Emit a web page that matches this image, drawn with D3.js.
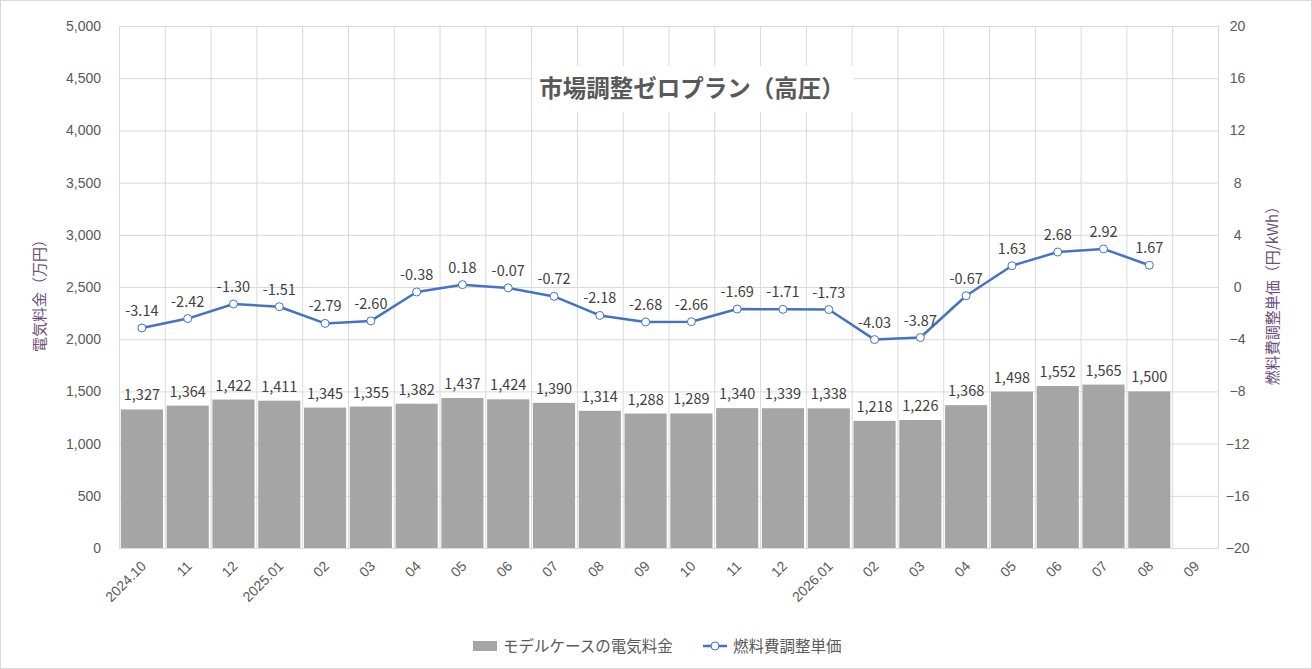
<!DOCTYPE html>
<html>
<head>
<meta charset="utf-8">
<script src="https://cdn.jsdelivr.net/npm/d3@7"></script>
<style>
  body { margin: 0; background: #fff; }
  svg { display: block; font-family: "Noto Sans CJK JP", "Noto Sans", sans-serif; }
  .tick text { fill: #595959; font-size: 14px; }
  .label { fill: #404040; font-size: 14.5px; }
</style>
</head>
<body>
<svg></svg>
<script>
// categories (month labels)
const months = ["2024.10", "11", "12", "2025.01", "02", "03", "04", "05", "06", "07", "08", "09",
  "10", "11", "12", "2026.01", "02", "03", "04", "05", "06", "07", "08", "09"];
// モデルケースの電気料金 (万円)
const bills = [1327, 1364, 1422, 1411, 1345, 1355, 1382, 1437, 1424, 1390, 1314, 1288,
  1289, 1340, 1339, 1338, 1218, 1226, 1368, 1498, 1552, 1565, 1500];
// 燃料費調整単価 (円/kWh)
const fuelAdj = [-3.14, -2.42, -1.30, -1.51, -2.79, -2.60, -0.38, 0.18, -0.07, -0.72, -2.18, -2.68,
  -2.66, -1.69, -1.71, -1.73, -4.03, -3.87, -0.67, 1.63, 2.68, 2.92, 1.67];
const leftTicks = d3.range(0, 5001, 500);
const rightTicks = d3.range(-20, 21, 4);

const W = 1312, H = 669;
const margin = {top: 26, right: 94, bottom: 121, left: 119};
const w = W - margin.left - margin.right;
const h = H - margin.top - margin.bottom;

const svg = d3.select("svg").attr("width", W).attr("height", H);

// chart border
svg.append("rect")
  .attr("x", 0.5).attr("y", 0.5)
  .attr("width", W - 1).attr("height", H - 1)
  .attr("fill", "#fff").attr("stroke", "#d9d9d9");

const chart = svg.append("g").attr("transform", "translate(" + margin.left + "," + margin.top + ")");

const idx = months.map((d, i) => i);
const x = d3.scaleBand().domain(idx).range([0, w]).paddingInner(0.08).paddingOuter(0.04);
const xb = d3.scaleBand().domain(idx).range([0, w]);
const y = d3.scaleLinear().domain([0, 5000]).range([h, 0]);
const y2 = d3.scaleLinear().domain([-20, 20]).range([h, 0]);

// gridlines
chart.append("g").selectAll("line")
  .data(leftTicks).enter().append("line")
  .attr("x1", 0).attr("x2", w)
  .attr("y1", d => y(d) + 0.5).attr("y2", d => y(d) + 0.5)
  .attr("stroke", "#d9d9d9");
chart.append("g").selectAll("line")
  .data(idx.concat([months.length])).enter().append("line")
  .attr("x1", d => (d < months.length ? xb(d) : w) + 0.5)
  .attr("x2", d => (d < months.length ? xb(d) : w) + 0.5)
  .attr("y1", 0).attr("y2", h)
  .attr("stroke", "#d9d9d9");

// title with white background
svg.append("rect")
  .attr("x", 532).attr("y", 66).attr("width", 322).attr("height", 46)
  .attr("fill", "#fff");
svg.append("text")
  .attr("x", 692).attr("y", 97)
  .attr("text-anchor", "middle")
  .attr("fill", "#595959")
  .style("font-size", "23.5px").style("font-weight", "bold")
  .text("市場調整ゼロプラン（高圧）");

// bars
chart.selectAll("rect.bar")
  .data(bills).enter().append("rect")
  .attr("class", "bar")
  .attr("x", (d, i) => x(i))
  .attr("width", x.bandwidth())
  .attr("y", d => y(d))
  .attr("height", d => h - y(d))
  .attr("fill", "#a5a5a5");

chart.selectAll("text.blabel")
  .data(bills).enter().append("text")
  .attr("class", "label")
  .attr("x", (d, i) => xb(i) + xb.bandwidth() / 2)
  .attr("y", d => y(d) - 9)
  .attr("text-anchor", "middle")
  .text(d => d3.format(",")(d));

// line
const line = d3.line()
  .x((d, i) => xb(i) + xb.bandwidth() / 2)
  .y(d => y2(d));
chart.append("path")
  .datum(fuelAdj)
  .attr("d", line)
  .attr("fill", "none")
  .attr("stroke", "#4472c4")
  .attr("stroke-width", 2.5)
  .attr("stroke-linejoin", "round");
chart.selectAll("circle")
  .data(fuelAdj).enter().append("circle")
  .attr("cx", (d, i) => xb(i) + xb.bandwidth() / 2)
  .attr("cy", d => y2(d))
  .attr("r", 4)
  .attr("fill", "#fff")
  .attr("stroke", "#4472c4")
  .attr("stroke-width", 1);
chart.selectAll("text.llabel")
  .data(fuelAdj).enter().append("text")
  .attr("class", "label")
  .attr("x", (d, i) => xb(i) + xb.bandwidth() / 2)
  .attr("y", d => y2(d) - 12)
  .attr("text-anchor", "middle")
  .text(d => d.toFixed(2));

// axes
const yAxis = chart.append("g")
  .call(d3.axisLeft(y).tickValues(leftTicks).tickFormat(d3.format(",")).tickSize(0).tickPadding(18));
yAxis.select(".domain").remove();

const y2Axis = chart.append("g")
  .attr("transform", "translate(" + w + ",0)")
  .call(d3.axisRight(y2).tickValues(rightTicks).tickSize(0).tickPadding(14));
y2Axis.select(".domain").remove();
y2Axis.selectAll(".tick text").attr("text-anchor", "middle").attr("dx", "0.4em");

const xAxis = chart.append("g")
  .attr("transform", "translate(0," + h + ")")
  .call(d3.axisBottom(xb).tickFormat(i => months[i]).tickSize(0));
xAxis.select(".domain").attr("stroke", "#d9d9d9");
xAxis.selectAll(".tick text")
  .attr("text-anchor", "end")
  .attr("transform", "translate(-4,10) rotate(-45)")
  .attr("dy", "0.7em");

// axis titles
svg.append("text")
  .attr("transform", "translate(45," + (margin.top + h / 2 + 5) + ") rotate(-90)")
  .attr("text-anchor", "middle")
  .attr("fill", "#6e4f7c")
  .style("font-size", "15px")
  .text("電気料金（万円）");
svg.append("text")
  .attr("transform", "translate(1278," + (margin.top + h / 2 + 5) + ") rotate(-90)")
  .attr("text-anchor", "middle")
  .attr("fill", "#6e4f7c")
  .style("font-size", "15px")
  .text("燃料費調整単価（円/kWh）");

// legend
const legend = svg.append("g").attr("transform", "translate(0,646)");
legend.append("rect")
  .attr("x", 473).attr("y", -5).attr("width", 24).attr("height", 10)
  .attr("fill", "#a5a5a5");
legend.append("text")
  .attr("x", 503).attr("y", 5.5)
  .attr("fill", "#595959").style("font-size", "15.5px")
  .text("モデルケースの電気料金");
legend.append("line")
  .attr("x1", 703).attr("x2", 727).attr("y1", 0).attr("y2", 0)
  .attr("stroke", "#4472c4").attr("stroke-width", 2.5);
legend.append("circle")
  .attr("cx", 715).attr("cy", 0).attr("r", 4)
  .attr("fill", "#fff").attr("stroke", "#4472c4");
legend.append("text")
  .attr("x", 733).attr("y", 5.5)
  .attr("fill", "#595959").style("font-size", "15.5px")
  .text("燃料費調整単価");
</script>
</body>
</html>
